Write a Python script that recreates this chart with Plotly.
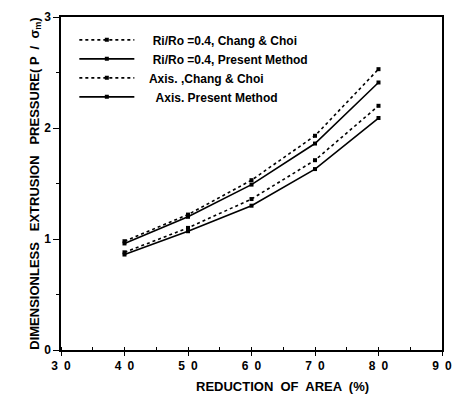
import plotly.graph_objects as go

reduction = [40, 50, 60, 70, 80]
rr_chang = [0.98, 1.22, 1.53, 1.93, 2.53]
rr_present = [0.96, 1.20, 1.49, 1.86, 2.41]
ax_chang = [0.88, 1.10, 1.36, 1.71, 2.20]
ax_present = [0.86, 1.07, 1.30, 1.63, 2.09]

x_tick_vals = [30, 40, 50, 60, 70, 80, 90]
x_tick_text = ["3\u20020", "4\u20020", "5\u20020", "6\u20020", "7\u20020", "8\u20020", "9\u20020"]

names = ["    Ri/Ro =0.4, Chang & Choi", "    Ri/Ro =0.4, Present Method",
         "   Axis. ,Chang & Choi", "     Axis. Present Method"]
series = [rr_chang, rr_present, ax_chang, ax_present]
dashes = ["dot", "solid", "dot", "solid"]

fig = go.Figure()
for n, s, d in zip(names, series, dashes):
    fig.add_trace(go.Scatter(
        x=reduction, y=s, name=n, mode="lines+markers",
        line=dict(color="black", width=1.6, dash=d),
        marker=dict(symbol="square", size=4, color="black"),
    ))

FAM = "Liberation Sans, Arial, sans-serif"

fig.add_annotation(
    text="REDUCTION  OF  AREA  (%)", xref="paper", yref="paper",
    x=0.582, y=-0.11, xanchor="center", yanchor="middle", showarrow=False,
    font=dict(family=FAM, size=13, color="black", weight="bold"),
)

fig.update_layout(
    width=462, height=400,
    margin=dict(l=61, r=13, t=10, b=50),
    plot_bgcolor="white", paper_bgcolor="white",
    font=dict(family=FAM, color="black", size=12),
    showlegend=True,
    legend=dict(
        x=0.035, y=0.975, xanchor="left", yanchor="top",
        bgcolor="rgba(0,0,0,0)", itemwidth=55,
        font=dict(family=FAM, size=12, color="black", weight="bold"),
        tracegroupgap=0,
    ),
    xaxis=dict(
        range=[30, 90], tickvals=x_tick_vals, ticktext=x_tick_text,
        showgrid=False, zeroline=False,
        showline=True, linecolor="black", linewidth=1.5, mirror=True,
        ticks="outside", ticklen=4, tickcolor="black",
        minor=dict(dtick=5, ticks="inside", ticklen=3, tickcolor="black"),
        tickfont=dict(size=12, weight="bold"),
    ),
    yaxis=dict(
        range=[0, 3], dtick=1,
        showgrid=False, zeroline=False,
        showline=True, linecolor="black", linewidth=1.5, mirror=True,
        ticks="outside", ticklen=6, tickcolor="black",
        minor=dict(dtick=0.5, ticks="outside", ticklen=3, tickcolor="black"),
        tickfont=dict(size=12, weight="bold"),
        title=dict(text="DIMENSIONLESS   EXTRUSION   PRESSURE( P  /  σ<sub>m</sub>)",
                   font=dict(size=13, weight="bold"), standoff=2),
    ),
)

fig.write_html("out.html", config={"displayModeBar": False},
               post_script="document.body.style.margin='0';")
